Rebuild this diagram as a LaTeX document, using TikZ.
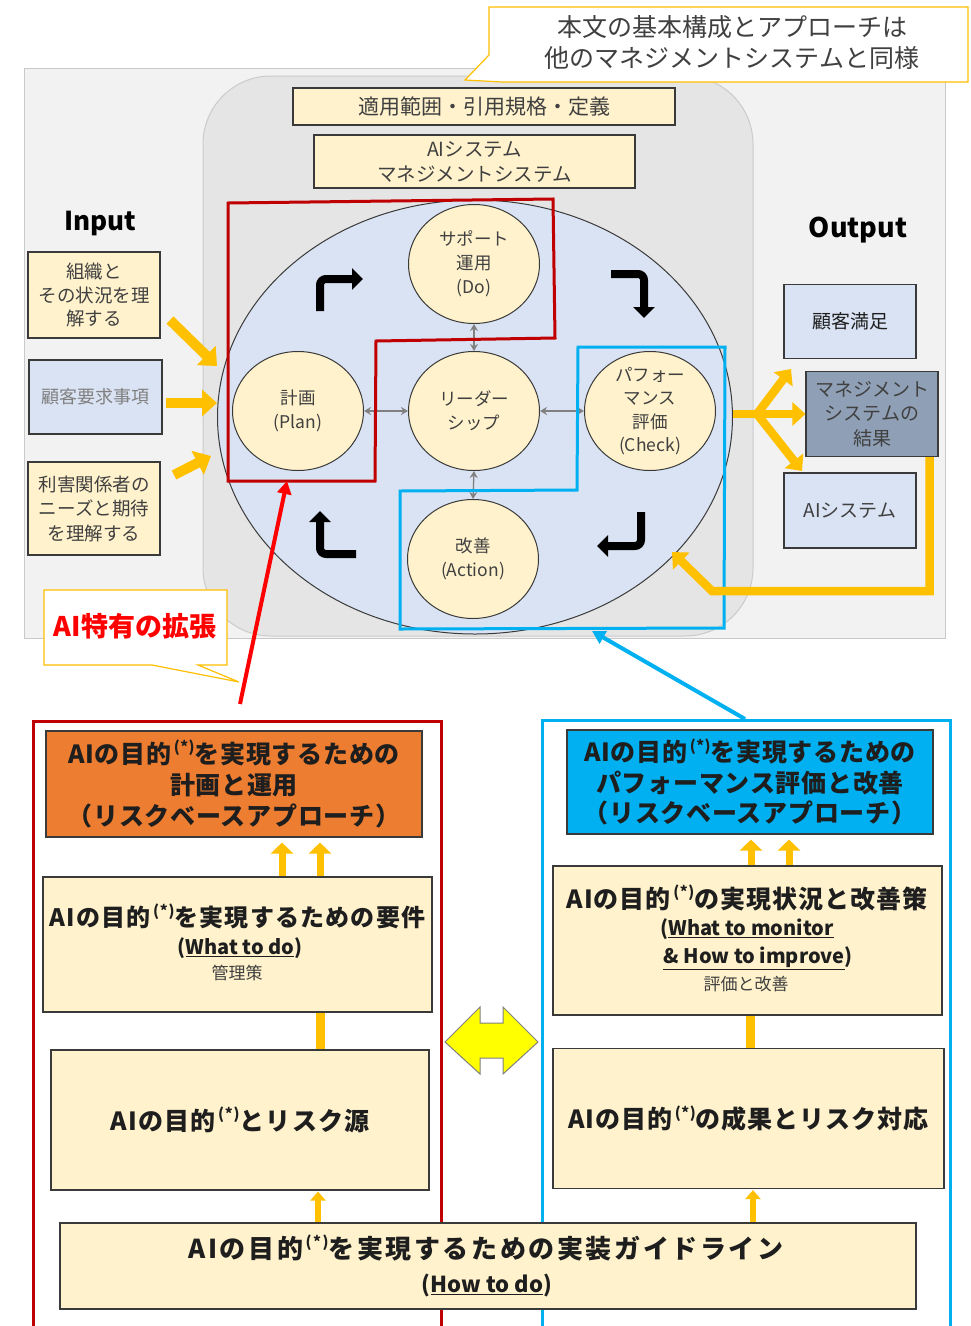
\documentclass[tikz,border=0pt]{standalone}
\usepackage{fontspec}
\setmainfont{Noto Sans CJK JP}
\usetikzlibrary{arrows.meta,shapes.geometric,calc}
\definecolor{bggray}{HTML}{F2F2F2}
\definecolor{bgline}{HTML}{C9C9C9}
\definecolor{rrfill}{HTML}{E5E5E5}
\definecolor{rrline}{HTML}{CBCBCB}
\definecolor{elfill}{HTML}{DAE3F3}
\definecolor{cream}{HTML}{FFF2CC}
\definecolor{gold}{HTML}{FFC000}
\definecolor{dred}{HTML}{C00000}
\definecolor{cyanb}{HTML}{00B0F0}
\definecolor{orng}{HTML}{ED7D31}
\definecolor{bgrayb}{HTML}{8FA0B6}
\definecolor{txt}{HTML}{404040}
\definecolor{txtd}{HTML}{1E1E1E}
\definecolor{boxline}{HTML}{3A3A3A}
\definecolor{lgray}{HTML}{808080}
\definecolor{ylw}{HTML}{FFFF00}
\definecolor{redx}{HTML}{FF0000}
\newcommand{\myast}{\raisebox{0.42em}{\fontsize{15}{15}\selectfont\,(*)}}
\newcommand{\fs}[2]{\fontsize{#1}{#2}\selectfont}
\newcommand{\ls}[1]{\addfontfeature{LetterSpace=#1}}
\tikzset{
 cbox/.style={draw=boxline, line width=1.1pt, fill=cream, inner sep=0pt, align=center, text=txt},
 bbox/.style={cbox, fill=elfill},
 circ/.style={ellipse, draw=boxline, line width=1pt, fill=cream, inner sep=0pt, minimum width=131pt, minimum height=119pt},
 ctext/.style={align=center, text=txt, font=\fs{17.5}{24}},
 grayarr/.style={draw=lgray, line width=1.3pt, {Stealth[length=7pt,width=8pt]}-{Stealth[length=7pt,width=8pt]}},
 blkarr/.style={draw=black, line width=8pt, rounded corners=6pt, -{Triangle[length=11pt,width=21pt]}},
 goldarr/.style={draw=gold, line width=10pt, -{Triangle[length=15pt,width=26pt]}},
 goldout/.style={draw=gold, line width=8.5pt, -{Triangle[length=13pt,width=23pt]}},
 goldup/.style={draw=gold, line width=7pt, -{Triangle[length=11pt,width=22pt]}},
 goldsm/.style={draw=gold, line width=5.5pt, -{Triangle[length=9pt,width=15pt]}},
 call/.style={draw=gold, line width=1.2pt, fill=white},
 btext/.style={text=txtd, font=\fs{25}{31}\bfseries, align=center},
}
\begin{document}
\begin{tikzpicture}[x=1pt,y=-1pt]
\useasboundingbox (0,0) rectangle (971,1326);
\fill[white] (0,0) rectangle (971,1326);
% ---------- upper area background ----------
\draw[draw=bgline, fill=bggray, line width=1pt] (24,68) rectangle (945,638);
\draw[draw=rrline, fill=rrfill, line width=1pt, rounded corners=68pt] (203,76) rectangle (753,636);
% top callout
\draw[call] (489,7) -- (968,7) -- (968,82) -- (502,82) -- (465,80) -- (489,55) -- cycle;
\node[text=txt, align=center, font=\fs{25}{31}] (note) at (732,43) {本文の基本構成とアプローチは\\他のマネジメントシステムと同様};
% top boxes
\node[cbox, minimum width=382pt, minimum height=37pt, font=\fs{21}{25}] (scope) at (484,106.5) {適用範囲・引用規格・定義};
\node[cbox, minimum width=321pt, minimum height=53pt, font=\fs{19.5}{25}] (aims) at (474.5,161.5) {AIシステム\\マネジメントシステム};
% ---------- PDCA ellipse ----------
\node[ellipse, draw=boxline, line width=1pt, fill=elfill, minimum width=515pt, minimum height=434pt, inner sep=0pt] (cyc) at (475,417) {};
\node[circ] (do) at (474,264) {};
\node[circ] (plan) at (298,411) {};
\node[circ] (lead) at (474,411) {};
\node[circ] (chk) at (650,411) {};
\node[circ] (act) at (473,559) {};
\node[ctext] (dol) at (do) {サポート\\運用\\(Do)};
\node[ctext] (planl) at (plan) {計画\\(Plan)};
\node[ctext] (leadl) at (lead) {リーダー\\シップ};
\node[ctext, font=\fs{17.5}{23.5}] (chkl) at (chk) {パフォー\\マンス\\評価\\(Check)};
\node[ctext] (actl) at (act) {改善\\(Action)};
\draw[grayarr] (do.south) -- (lead.north);
\draw[grayarr] (plan.east) -- (lead.west);
\draw[grayarr] (lead.east) -- (chk.west);
\draw[grayarr] (lead.south) -- (act.north);
% black cycle arrows
\coordinate (b1a) at (320,311); \coordinate (b1b) at (320,279); \coordinate (b1c) at (363,279);
\draw[blkarr] (b1a) -- (b1b) -- (b1c);
\coordinate (b2a) at (611,274); \coordinate (b2b) at (644,274); \coordinate (b2c) at (644,318);
\draw[blkarr] (b2a) -- (b2b) -- (b2c);
\coordinate (b3a) at (641,512); \coordinate (b3b) at (641,546); \coordinate (b3c) at (597,546);
\draw[blkarr] (b3a) -- (b3b) -- (b3c);
\coordinate (b4a) at (356,554); \coordinate (b4b) at (320,554); \coordinate (b4c) at (320,511);
\draw[blkarr] (b4a) -- (b4b) -- (b4c);
% red and cyan outlines
\draw[dred, line width=3pt, line join=miter] (228,203) -- (553,199) -- (555,338) -- (376,341) -- (375,481) -- (228,481) -- cycle;
\draw[cyanb, line width=3pt, line join=miter] (578,347) -- (725,347) -- (724,628) -- (400,629) -- (400,491) -- (577,490) -- cycle;
% ---------- Input ----------
\node[font=\fs{26}{30}\bfseries, text=black] (inlab) at (100,223) {Input};
\node[cbox, minimum width=132pt, minimum height=86pt, font=\fs{18.5}{23.5}] (in1) at (94,295) {組織と\\その状況を理\\解する};
\node[bbox, minimum width=133pt, minimum height=74pt, font=\fs{18}{22}, text=lgray] (in2) at (95.5,397) {顧客要求事項};
\node[cbox, minimum width=132pt, minimum height=93pt, font=\fs{18.5}{24.5}] (in3) at (94,508.5) {利害関係者の\\ニーズと期待\\を理解する};
\coordinate (ia1) at (170,320); \coordinate (ib1) at (217,366);
\draw[goldarr] (ia1) -- (ib1);
\coordinate (ia2) at (166,403);
\draw[goldarr] (ia2) -- (cyc.west |- ia2);
\coordinate (ia3) at (174,475); \coordinate (ib3) at (211,456);
\draw[goldarr] (ia3) -- (ib3);
% ---------- Output ----------
\node[font=\fs{27}{30}\bfseries, text=black] (outlab) at (858,230) {Output};
\node[bbox, minimum width=132pt, minimum height=74pt, font=\fs{19}{23}, text=txtd] (cs) at (850,321.5) {顧客満足};
\node[cbox, fill=bgrayb, minimum width=132pt, minimum height=85pt, font=\fs{19}{24.5}] (res) at (872,414) {マネジメント\\システムの\\結果};
\node[bbox, minimum width=132pt, minimum height=75pt, font=\fs{19}{23}] (ais) at (850,510.5) {AIシステム};
\coordinate (oj) at (757,414);
\draw[goldout] (cyc.east |- res.west) -- (res.west);
\coordinate (ot1) at (791,369);
\coordinate (ot2) at (802,471);
\draw[goldout] (oj) -- (ot1);
\draw[goldout] (oj) -- (ot2);
\coordinate (lp2) at (712,591); \coordinate (lptip) at (672,552);
\draw[draw=gold, line width=8.5pt, line join=miter, -{Triangle[length=13pt,width=23pt]}] ([xshift=-9pt]res.south east) |- (lp2) -- (lptip);
% AI-specific callout
\draw[call] (44,590) -- (227,590) -- (227,665) -- (198,665) -- (239,682) -- (152,665) -- (44,665) -- cycle;
\node[text=redx, font=\fs{27}{30}\bfseries] (ext) at (135,626) {AI特有の拡張};
\coordinate (rtail) at (240,704); \coordinate (rtip) at (287,481);
\draw[draw=redx, line width=4pt, -{Triangle[length=13pt,width=14pt]}] (rtail) -- (rtip);
\coordinate (ctail) at (745,719); \coordinate (ctip) at (592,631);
\draw[draw=cyanb, line width=4pt, -{Triangle[length=13pt,width=14pt]}] (ctail) -- (ctip);
% ---------- lower part ----------
\draw[dred, line width=3pt] (33,1330) -- (33,721) -- (441,721) -- (441,1330);
\draw[cyanb, line width=3pt] (542,1330) -- (542,720) -- (950,720) -- (950,1330);
\node[cbox, fill=orng, minimum width=376pt, minimum height=106pt, text=txtd, font=\fs{25}{31}\bfseries\ls{3}] (pl2) at (234,784) {AIの目的\myast を実現するための\\計画と運用\\（リスクベースアプローチ）};
\node[cbox, fill=cyanb, minimum width=366pt, minimum height=104pt, text=txtd, font=\fs{25}{30.5}\bfseries\ls{3}] (pe2) at (750,782) {AIの目的\myast を実現するための\\パフォーマンス評価と改善\\（リスクベースアプローチ）};
\node[cbox, minimum width=389pt, minimum height=135pt] (req) at (237.5,944.5) {};
\node[btext, font=\fs{24}{30}\bfseries\ls{5}] (reqt1) at (237.5,916) {AIの目的\myast を実現するための要件};
\node[btext, font=\fs{20}{24}\bfseries] (reqt2) at (240,948) {(\underline{What to do})};
\node[text=txt, font=\fs{17}{20}] (reqt3) at (237,973) {管理策};
\node[cbox, minimum width=389pt, minimum height=149pt] (ev) at (747.5,940.5) {};
\node[btext, font=\fs{25}{31}\bfseries\ls{4}] (evt1) at (747,898) {AIの目的\myast の実現状況と改善策};
\node[btext, font=\fs{20}{24}\bfseries] (evt2) at (747,929) {(\underline{What to monitor}};
\node[btext, font=\fs{20}{24}\bfseries] (evt3) at (758,958) {\underline{\& How to improve})};
\node[text=txt, font=\fs{17}{20}] (evt4) at (746,984) {評価と改善};
\node[cbox, minimum width=378pt, minimum height=140pt, text=txtd, font=\fs{25}{30}\bfseries\ls{5}] (risk) at (240,1120) {AIの目的\myast とリスク源};
\node[cbox, minimum width=391pt, minimum height=140pt, text=txtd, font=\fs{25}{30}\bfseries\ls{4}] (resp) at (748.5,1118.5) {AIの目的\myast の成果とリスク対応};
\node[cbox, minimum width=856pt, minimum height=86pt] (impl) at (488,1266) {};
\node[btext, font=\fs{26}{30}\bfseries\ls{10}] (implt1) at (486,1248) {AIの目的\myast を実現するための実装ガイドライン};
\node[btext, font=\fs{22}{26}\bfseries] (implt2) at (487,1285) {(\underline{How to do})};
% gold arrows lower
\draw[goldup, shorten >=5pt] ([xshift=44.5pt]req.north) -- ([xshift=44.5pt]req.north |- pl2.south);
\draw[goldup, shorten >=5pt] ([xshift=82.5pt]req.north) -- ([xshift=82.5pt]req.north |- pl2.south);
\draw[goldup, shorten >=5pt] ([xshift=3.5pt]ev.north) -- ([xshift=3.5pt]ev.north |- pe2.south);
\draw[goldup, shorten >=5pt] ([xshift=41.5pt]ev.north) -- ([xshift=41.5pt]ev.north |- pe2.south);
\draw[draw=gold, line width=9pt] ([xshift=82.5pt]req.south) -- ([xshift=82.5pt]req.south |- risk.north);
\draw[draw=gold, line width=9pt] ([xshift=2.5pt]ev.south) -- ([xshift=2.5pt]ev.south |- resp.north);
\draw[goldsm, shorten >=1pt] ([xshift=-170pt]impl.north) -- ([xshift=-170pt]impl.north |- risk.south);
\draw[goldsm, shorten >=1pt] ([xshift=265pt]impl.north) -- ([xshift=265pt]impl.north |- resp.south);
% yellow double arrow
\draw[fill=ylw, draw=lgray, line width=1pt, line join=miter] (445,1042) -- (480,1007) -- (480,1023) -- (503,1023) -- (503,1007) -- (538,1042) -- (503,1074) -- (503,1058) -- (480,1058) -- (480,1074) -- cycle;
\end{tikzpicture}
\end{document}
